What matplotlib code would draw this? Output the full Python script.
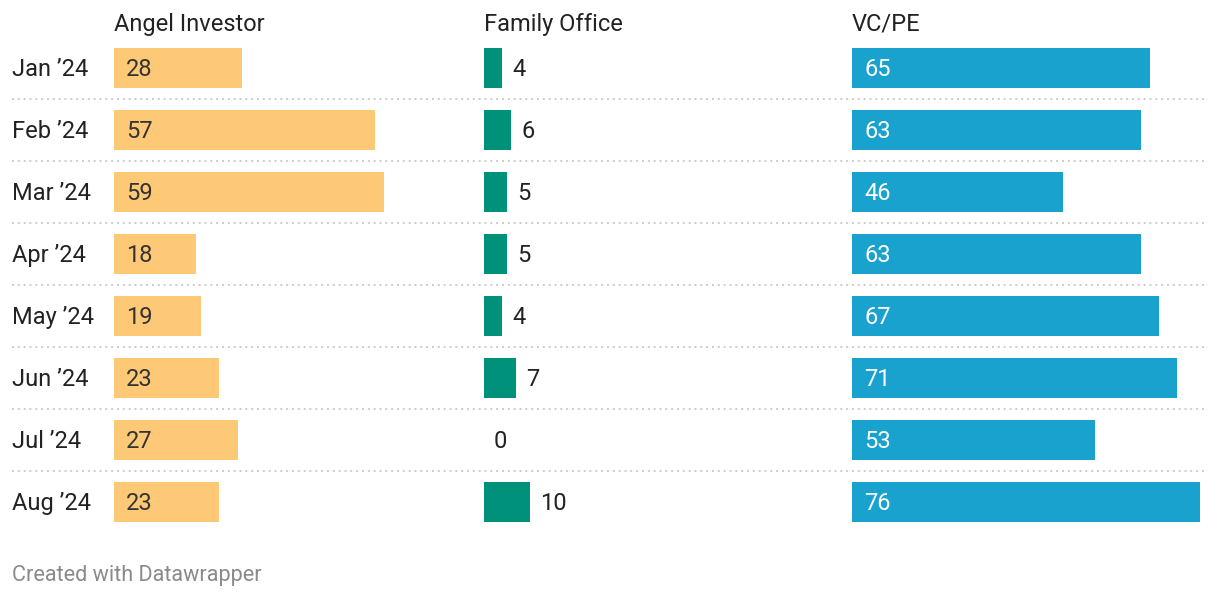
import matplotlib
matplotlib.use("Agg")
import matplotlib.pyplot as plt

months = ["Jan ’24", "Feb ’24", "Mar ’24", "Apr ’24", "May ’24", "Jun ’24", "Jul ’24", "Aug ’24"]
angel = [28, 57, 59, 18, 19, 23, 27, 23]
family = [4, 6, 5, 5, 4, 7, 0, 10]
vcpe = [65, 63, 46, 63, 67, 71, 53, 76]
series_names = ["Angel Investor", "Family Office", "VC/PE"]

plt.rcParams['font.family'] = ['Roboto', 'DejaVu Sans']

W, H = 1220, 598
fig = plt.figure(figsize=(W / 100, H / 100), dpi=100)
fig.patch.set_facecolor('white')

top_px, bot_px = 37, 533
n = len(months)
ax_bottom = 1 - bot_px / H
ax_height = (bot_px - top_px) / H
FS = 17

# background axes for separators and row labels (pixel x units)
bg = fig.add_axes([0, ax_bottom, 1, ax_height])
bg.set_xlim(0, W)
bg.set_ylim(n - 0.5, -0.5)
bg.axis('off')
for i in range(n - 1):
    bg.plot([12, 1208], [i + 0.5, i + 0.5], color='#cccccc', lw=1.4,
            linestyle=(0, (1, 2)), solid_capstyle='butt')
for i, m in enumerate(months):
    bg.text(12, i + 0.02, m, ha='left', va='center', fontsize=FS, color='#222222')

scale = 4.58  # px per unit
panel_w = 350
panels = [
    (114, angel, '#fec976', 'inside', '#333333'),
    (484, family, '#00917a', 'outside', '#222222'),
    (852, vcpe, '#19a2ce', 'inside', '#ffffff'),
]
bar_h = 40 / 62

for (left, vals, col, pos, tcol), name in zip(panels, series_names):
    ax = fig.add_axes([left / W, ax_bottom, panel_w / W, ax_height])
    ax.set_xlim(0, panel_w / scale)
    ax.set_ylim(n - 0.5, -0.5)
    ax.axis('off')
    ax.barh(range(n), vals, height=bar_h, color=col)
    for i, v in enumerate(vals):
        if pos == 'inside':
            ax.text(12 / scale, i + 0.02, str(v), ha='left', va='center', fontsize=FS, color=tcol)
        else:
            ax.text(v + 10 / scale, i + 0.02, str(v), ha='left', va='center', fontsize=FS, color=tcol)
    fig.text(left / W, 1 - 24 / H, name, ha='left', va='center', fontsize=FS, color='#222222')

fig.text(12 / W, 1 - 575 / H, "Created with Datawrapper", ha='left', va='center',
         fontsize=15.6, color='#8a8a8a')

fig.savefig("out.png", dpi=100, facecolor='white')
